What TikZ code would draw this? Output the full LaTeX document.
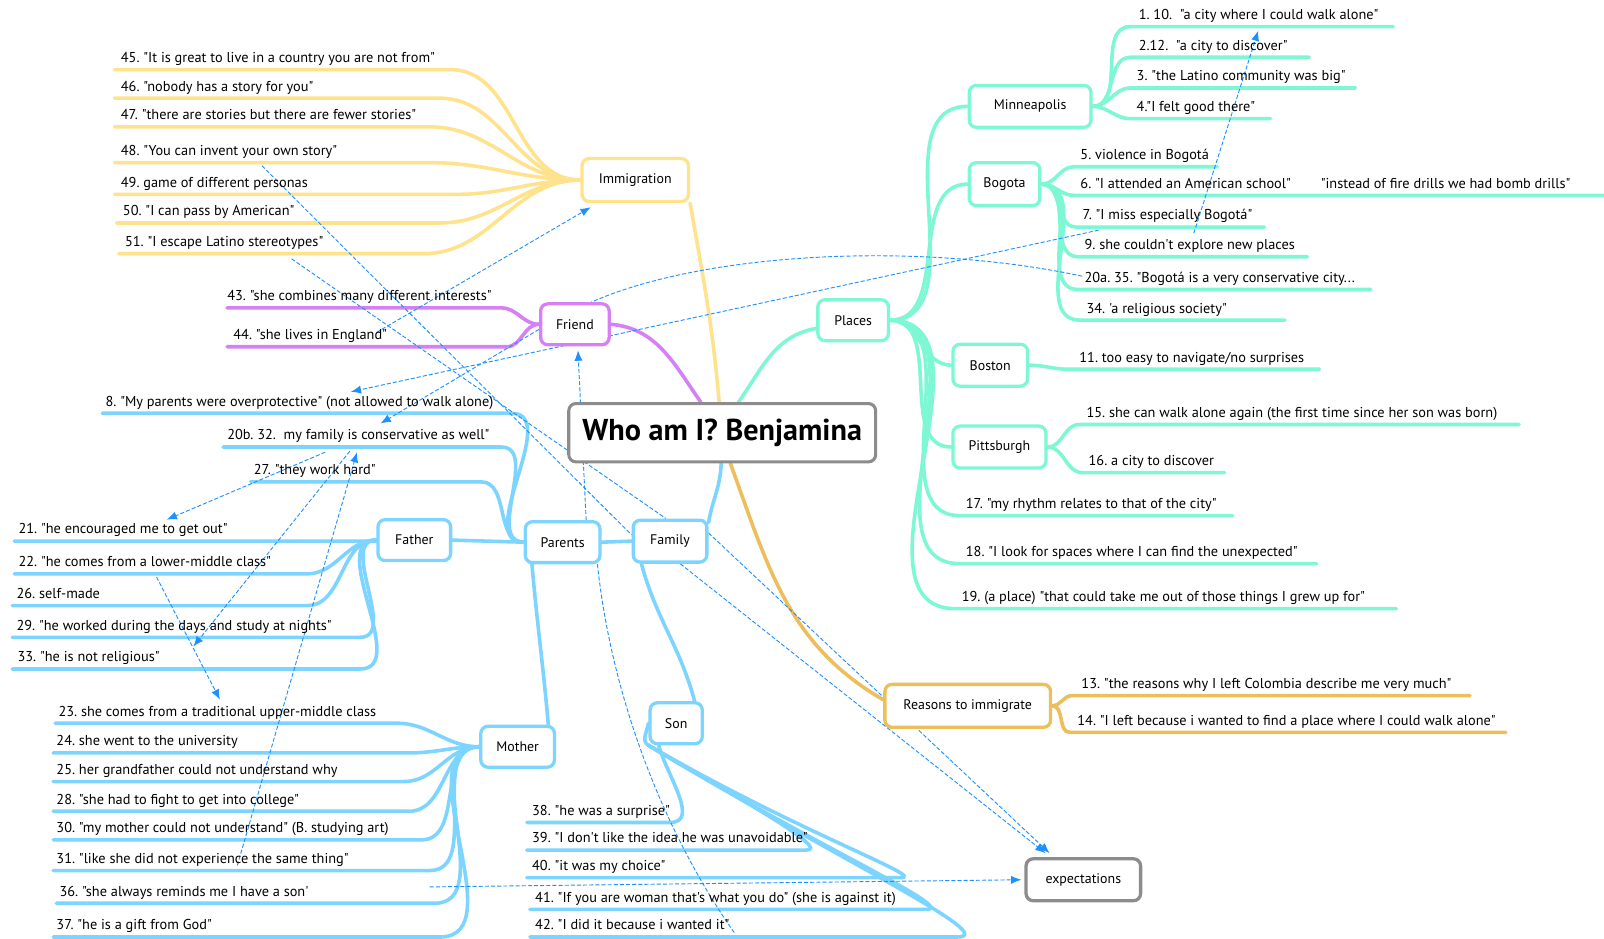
\documentclass[tikz,border=0pt]{standalone}
\usepackage{fontspec}
\setmainfont{PT Sans}[Ligatures=TeXOff]
\usetikzlibrary{arrows.meta}
\pgfdeclarelayer{bg}
\pgfsetlayers{bg,main}

\definecolor{cyel}{RGB}{255,226,140}
\definecolor{cpur}{RGB}{214,128,245}
\definecolor{cmint}{RGB}{125,247,212}
\definecolor{corg}{RGB}{236,190,92}
\definecolor{cblu}{RGB}{125,212,255}
\definecolor{cgry}{RGB}{140,140,140}
\definecolor{cdash}{RGB}{30,144,255}

\tikzset{
  nd/.style={draw, line width=3.2pt, rounded corners=7pt, fill=white, inner sep=0pt,
    minimum height=41pt, font=\fontsize{13.6}{16}\selectfont\frenchspacing},
  leaf/.style={anchor=base west, inner sep=0pt, font=\fontsize{14}{16}\selectfont\frenchspacing},
  br/.style={line width=3.5pt, line cap=round},
  yb/.style={br, draw=cyel},
  pb/.style={br, draw=cpur},
  mb/.style={br, draw=cmint},
  ob/.style={br, draw=corg},
  bb/.style={br, draw=cblu},
  lk/.style={draw=cdash, line width=0.9pt, dash pattern=on 4pt off 2pt},
  lka/.style={lk, -{Latex[length=10pt,width=8pt]}},
}

% leaf text with its underline end points: name, text x, line y, left x, right x, text
\newcommand\leaf[6]{%
  \node[leaf] (#1) at ({#2},{#3-7}) {#6};
  \coordinate (#1l) at ({#4},{#3});
  \coordinate (#1r) at ({#5},{#3});}

\begin{document}
\begin{tikzpicture}[x=1pt,y=-1pt]
\useasboundingbox (0,0) rectangle (1568,917);

% ---------- main nodes ----------
\node[nd, draw=cgry, line width=3pt, minimum width=300pt, minimum height=57pt,
      font=\fontsize{29.5}{32}\selectfont\bfseries] (cen) at (706,423) {Who am I? Benjamina};
\node[nd, draw=cyel, minimum width=104pt, minimum height=42pt] (imm) at (621,176) {Immigration};
\node[nd, draw=cpur, minimum width=67pt, minimum height=40pt] (fr) at (562,317) {Friend};
\node[nd, draw=cmint, minimum width=69pt, minimum height=40pt] (pl) at (834,313) {Places};
\node[nd, draw=cmint, minimum width=119pt] (mn) at (1007,104) {Minneapolis};
\node[nd, draw=cmint, minimum width=69pt, minimum height=42pt] (bg) at (982,180) {Bogota};
\node[nd, draw=cmint, minimum width=73pt] (bo) at (968,357) {Boston};
\node[nd, draw=cmint, minimum width=91pt] (pi) at (977,437) {Pittsburgh};
\node[nd, draw=corg, minimum width=162pt, minimum height=42pt] (rs) at (946,690) {Reasons to immigrate};
\node[nd, draw=cgry, minimum width=112pt] (ex) at (1059,860) {expectations};
\node[nd, draw=cblu, minimum width=72pt] (fam) at (655,529) {Family};
\node[nd, draw=cblu, minimum width=73pt, minimum height=40pt] (par) at (550,530) {Parents};
\node[nd, draw=cblu, minimum width=71pt, minimum height=40pt] (fa) at (405,528) {Father};
\node[nd, draw=cblu, minimum width=72pt, minimum height=40pt] (mo) at (506,730) {Mother};
\node[nd, draw=cblu, minimum width=51pt, minimum height=40pt] (son) at (661,707) {Son};

% ---------- leaves ----------
\leaf{l45}{118}{68}{112}{440}{45. "It is great to live in a country you are not from"}
\leaf{l46}{118}{96}{112}{430}{46. "nobody has a story for you"}
\leaf{l47}{118}{124}{112}{420}{47. "there are stories but there are fewer stories"}
\leaf{l48}{118}{159}{112}{420}{48. "You can invent your own story"}
\leaf{l49}{118}{190}{112}{446}{49. game of different personas}
\leaf{l50}{120}{218}{114}{430}{50. "I can pass by American"}
\leaf{l51}{122}{248}{116}{414}{51. "I escape Latino stereotypes"}

\leaf{l43}{222}{301}{222}{490}{43. "she combines many different interests"}
\leaf{l44}{228}{339}{222}{495}{44. "she lives in England"}

\leaf{l8}{103}{404}{100}{500}{8. "My parents were overprotective" (not allowed to walk alone)}
\leaf{l20b}{222}{437}{218}{490}{20b. 32.\ \ my family is conservative as well"}
\leaf{l27}{248}{471}{245}{470}{27. "they work hard"}

\leaf{l21}{18}{529}{14}{368}{21. "he encouraged me to get out"}
\leaf{l22}{18}{561}{14}{300}{22. "he comes from a lower-middle class"}
\leaf{l26}{16}{592}{12}{300}{26. self-made}
\leaf{l29}{16}{623}{12}{352}{29. "he worked during the days and study at nights"}
\leaf{l33}{17}{654}{12}{352}{33. "he is not religious"}

\leaf{l23}{57}{707}{54}{388}{23. she comes from a traditional upper-middle class}
\leaf{l24}{55}{736}{52}{400}{24. she went to the university}
\leaf{l25}{55}{764}{52}{395}{25. her grandfather could not understand why}
\leaf{l28}{55}{793}{52}{400}{28. "she had to fight to get into college"}
\leaf{l30}{55}{821}{52}{412}{30. "my mother could not understand" (B. studying art)}
\leaf{l31}{55}{851}{52}{420}{31. "like she did not experience the same thing"}
\leaf{l36}{58}{883}{55}{425}{36. "she always reminds me I have a son'}
\leaf{l37}{55}{916}{52}{430}{37. "he is a gift from God"}

\leaf{l38}{520}{804}{515}{655}{38. "he was a surprise"}
\leaf{l39}{520}{831}{515}{788}{39. "I don't like the idea he was unavoidable"}
\leaf{l40}{520}{858}{515}{880}{40. "it was my choice"}
\leaf{l41}{523}{889}{518}{905}{41. "If you are woman that's what you do" (she is against it)}
\leaf{l42}{523}{916}{518}{935}{42. "I did it because i wanted it"}

\leaf{l1}{1113}{26}{1105}{1362}{1. 10.\ \ "a city where I could walk alone"}
\leaf{l2}{1113}{56}{1105}{1280}{2.12.\ \ "a city to discover"}
\leaf{l3}{1111}{86}{1105}{1325}{3. "the Latino community was big"}
\leaf{l4}{1111}{116}{1105}{1242}{4."I felt good there"}

\leaf{l5}{1056}{163}{1050}{1190}{5. violence in Bogotá}
\leaf{l6}{1056}{191}{1050}{1568}{6. "I attended an American school"}
\node[leaf] (l6b) at (1291,184) {"instead of fire drills we had bomb drills"};
\leaf{l7}{1058}{222}{1052}{1236}{7. "I miss especially Bogotá"}
\leaf{l9}{1060}{251}{1054}{1278}{9. she couldn't explore new places}
\leaf{l20a}{1060}{283}{1054}{1340}{20a. 35. "Bogotá is a very conservative city...}
\leaf{l34}{1062}{313}{1056}{1256}{34. 'a religious society"}

\leaf{l11}{1055}{361}{1045}{1290}{11. too easy to navigate/no surprises}
\leaf{l15}{1062}{415}{1055}{1485}{15. she can walk alone again (the first time since her son was born)}
\leaf{l16}{1064}{462}{1058}{1197}{16. a city to discover}
\leaf{l17}{944}{504}{938}{1205}{17. "my rhythm relates to that of the city"}
\leaf{l18}{944}{551}{938}{1287}{18. "I look for spaces where I can find the unexpected"}
\leaf{l19}{940}{595}{934}{1365}{19. (a place) "that could take me out of those things I grew up for"}

\leaf{l13}{1057}{680}{1048}{1437}{13. "the reasons why I left Colombia describe me very much"}
\leaf{l14}{1053}{716}{1046}{1472}{14. "I left because i wanted to find a place where I could walk alone"}

% free ends of the dashed links
\coordinate (dA) at (368,325);
\coordinate (dB) at (256,162);
\coordinate (dC) at (285,253);
\coordinate (dD) at (372,414);
\coordinate (dE1) at (1074,225);
\coordinate (dE2) at (343,383);
\coordinate (dF) at (1058,270);
\coordinate (dH1) at (1167,228);
\coordinate (dH2) at (1230,30);
\coordinate (dI1) at (318,442);
\coordinate (dI2) at (163,508);
\coordinate (dJ1) at (342,441);
\coordinate (dJ2) at (189,632);
\coordinate (dK1) at (232,846);
\coordinate (dK2) at (349,442);
\coordinate (dL1) at (153,564);
\coordinate (dL2) at (215,684);
\coordinate (dM) at (420,867);
\coordinate (dN) at (1026,834);
\coordinate (dO) at (718,912);

\begin{pgfonlayer}{bg}
% ---------- branches ----------
\foreach \n in {l45,l46,l47,l48,l49,l50,l51}
  \draw[yb] (imm.west) to[out=180,in=0] (\n r) -- (\n l);
\foreach \n in {l43,l44}
  \draw[pb] (fr.west) to[out=180,in=0] (\n r) -- (\n l);
\foreach \n in {l8,l20b,l27}
  \draw[bb] (par.west) to[out=180,in=0] (\n r) -- (\n l);
\foreach \n in {l21,l22,l26,l29,l33}
  \draw[bb] (fa.west) to[out=180,in=0] (\n r) -- (\n l);
\foreach \n in {l23,l24,l25,l28,l30,l31,l36,l37}
  \draw[bb] (mo.west) to[out=180,in=0] (\n r) -- (\n l);

% son: a tight bundle that peels off into hairpin turns
\draw[bb] ([xshift=10pt]son.south west) to[out=-75,in=0] (l38r) -- (l38l);
\draw[bb] (son.south west) to[out=-30,in=0,out distance=115pt,in distance=24pt] (l39r) -- (l39l);
\draw[bb] (son.south west) to[out=-30,in=0,out distance=175pt,in distance=28pt] (l40r) -- (l40l);
\draw[bb] (son.south west) to[out=-31,in=0,out distance=195pt,in distance=33pt] (l41r) -- (l41l);
\draw[bb] (son.south west) to[out=-31,in=0,out distance=220pt,in distance=46pt] (l42r) -- (l42l);
\draw[bb] (son.west) to[out=-100,in=150] (son.south west);

\foreach \n in {mn,bg,bo,pi}
  \draw[mb] (pl.east) to[out=0,in=180] (\n.west);
\foreach \n in {l17,l18,l19}
  \draw[mb] (pl.east) to[out=0,in=180] (\n l) -- (\n r);
\foreach \n in {l1,l2,l3,l4}
  \draw[mb] (mn.east) to[out=0,in=180] (\n l) -- (\n r);
\foreach \n in {l5,l6,l7,l9,l20a,l34}
  \draw[mb] (bg.east) to[out=0,in=180] (\n l) -- (\n r);
\draw[mb] (bo.east) to[out=0,in=180] (l11l) -- (l11r);
\foreach \n in {l15,l16}
  \draw[mb] (pi.east) to[out=0,in=180] (\n l) -- (\n r);
\foreach \n in {l13,l14}
  \draw[ob] (rs.east) to[out=0,in=180] (\n l) -- (\n r);

% main branches from the centre
\draw[yb] (imm.south east) to[out=-80,in=95] ([xshift=-3pt]cen.north);
\draw[pb] (fr.east) to[out=-5,in=125] ([xshift=-21pt]cen.north);
\draw[mb] ([xshift=16pt]cen.north) to[out=55,in=190] ([yshift=-8pt]pl.west);
\draw[ob] ([xshift=8pt]cen.south) to[out=-70,in=150] ([yshift=6pt]rs.west);
\draw[bb] ([xshift=-1pt]cen.south) to[out=-92,in=80] ([yshift=-4pt]fam.north east);
\draw[bb] (fam.west) -- (par.east);
\draw[bb] (par.west) -- (fa.east);
\draw[bb] ([xshift=-30pt]par.south) to[out=-85,in=95] ([xshift=30pt]mo.north);
\draw[bb] ([xshift=-28pt]fam.south) to[out=-75,in=105] ([xshift=18pt]son.north);

% ---------- dashed links ----------
\draw[lka] (dA) -- ([xshift=10pt,yshift=-4pt]imm.south west);
\draw[lk] (dB) -- ([yshift=-16pt]fam.north west);
\draw[lk] (dC) -- ([xshift=-4pt]fam.north);
\draw[lka] ([yshift=-5pt]fr.west) -- (dD);
\draw[lka] (dE1) -- (dE2);
\draw[lk] (dF) .. controls (900,236) and (690,246) .. ([xshift=16pt]fr.north);
\draw[lka] ([xshift=23pt]par.north) -- ([xshift=3pt,yshift=-4pt]fr.south);
\draw[lka] (dH1) -- (dH2);
\draw[lka] (dI1) -- (dI2);
\draw[lka] (dJ1) -- (dJ2);
\draw[lka] (dK1) -- (dK2);
\draw[lka] (dL1) -- (dL2);
\draw[lka] (dM) -- ([xshift=-3pt]ex.west);
\draw[lka] ([yshift=8pt]fam.east) -- (dN);
\draw[lka] ([xshift=10pt]fam.south) -- ([xshift=-4pt]dN);
\draw[lk] ([xshift=34pt]par.south) .. controls (600,700) and (660,830) .. (dO);
\end{pgfonlayer}
\end{tikzpicture}
\end{document}
